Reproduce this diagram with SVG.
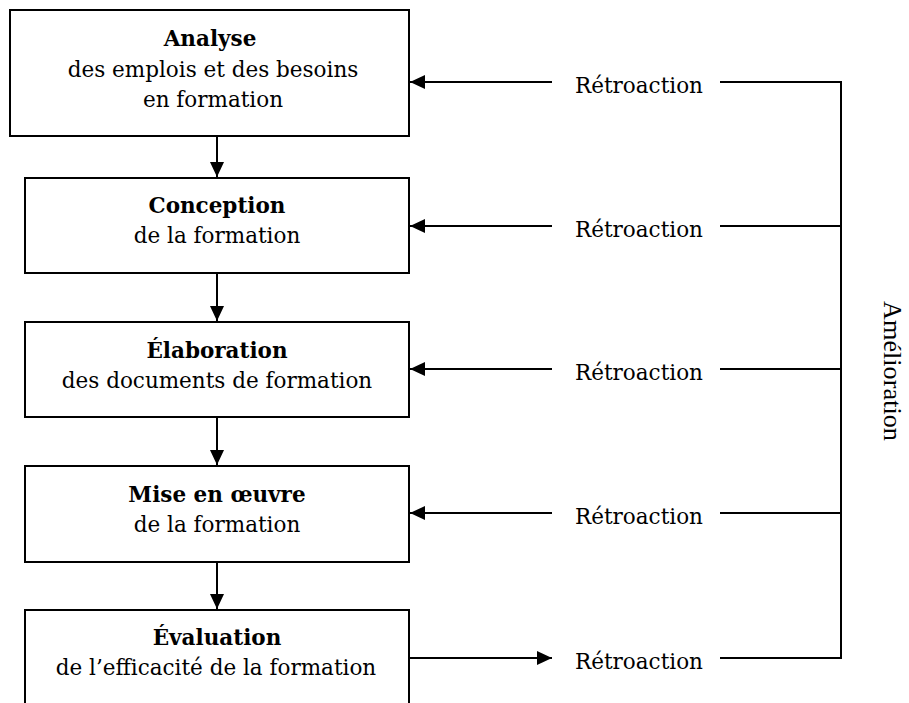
<svg xmlns="http://www.w3.org/2000/svg" width="909" height="703" viewBox="0 0 909 703">
<style>
.box{fill:#fff;stroke:#000;stroke-width:2}
.t{font-family:"DejaVu Serif","Liberation Serif",serif;font-size:21.5px;fill:#000;text-anchor:middle}
.b{font-weight:bold;font-size:21.5px}
.ln{fill:none;stroke:#000;stroke-width:2}
.side{font-family:"Liberation Serif","Times New Roman",serif;font-size:25px;fill:#000;text-anchor:middle}
</style>
<defs>
<marker id="ah" markerUnits="userSpaceOnUse" markerWidth="15" markerHeight="14" refX="15" refY="7" orient="auto">
<path d="M0,0 L15,7 L0,14 z" fill="#000"/>
</marker>
</defs>
<rect width="909" height="703" fill="#fff"/>
<g id="node-analyse">
<rect class="box" x="10" y="10" width="399" height="126"/>
<text class="t b" x="210" y="46">Analyse</text>
<text class="t" x="213" y="76.5">des emplois et des besoins</text>
<text class="t" x="213" y="107">en formation</text>
</g>
<g id="node-conception">
<rect class="box" x="25" y="178" width="384" height="95"/>
<text class="t b" x="217" y="213">Conception</text>
<text class="t" x="217" y="243">de la formation</text>
</g>
<g id="node-elaboration">
<rect class="box" x="25" y="322" width="384" height="95"/>
<text class="t b" x="217" y="358">Élaboration</text>
<text class="t" x="217" y="388">des documents de formation</text>
</g>
<g id="node-mise">
<rect class="box" x="25" y="466" width="384" height="96"/>
<text class="t b" x="217" y="502">Mise en œuvre</text>
<text class="t" x="217" y="532">de la formation</text>
</g>
<g id="node-evaluation">
<rect class="box" x="25" y="610" width="384" height="97"/>
<text class="t b" x="217" y="645">Évaluation</text>
<text class="t" x="216" y="675">de l’efficacité de la formation</text>
</g>
<g id="labels">
<text class="t" x="639" y="93">Rétroaction</text>
<text class="t" x="639" y="237">Rétroaction</text>
<text class="t" x="639" y="380">Rétroaction</text>
<text class="t" x="639" y="524">Rétroaction</text>
<text class="t" x="639" y="669">Rétroaction</text>
<text class="side" transform="translate(884,371) rotate(90)" textLength="140" lengthAdjust="spacingAndGlyphs">Amélioration</text>
</g>
<g id="connectors">
<line class="ln" x1="217" y1="137" x2="217" y2="177" marker-end="url(#ah)"/>
<line class="ln" x1="217" y1="274" x2="217" y2="321" marker-end="url(#ah)"/>
<line class="ln" x1="217" y1="418" x2="217" y2="465" marker-end="url(#ah)"/>
<line class="ln" x1="217" y1="563" x2="217" y2="609" marker-end="url(#ah)"/>
<line class="ln" x1="552" y1="82" x2="410" y2="82" marker-end="url(#ah)"/>
<line class="ln" x1="552" y1="226" x2="410" y2="226" marker-end="url(#ah)"/>
<line class="ln" x1="552" y1="369" x2="410" y2="369" marker-end="url(#ah)"/>
<line class="ln" x1="552" y1="513" x2="410" y2="513" marker-end="url(#ah)"/>
<line class="ln" x1="410" y1="658" x2="552" y2="658" marker-end="url(#ah)"/>
<path class="ln" d="M720,82 H841 V658 H720 M720,226 H841 M720,369 H841 M720,513 H841"/>
</g>
</svg>
